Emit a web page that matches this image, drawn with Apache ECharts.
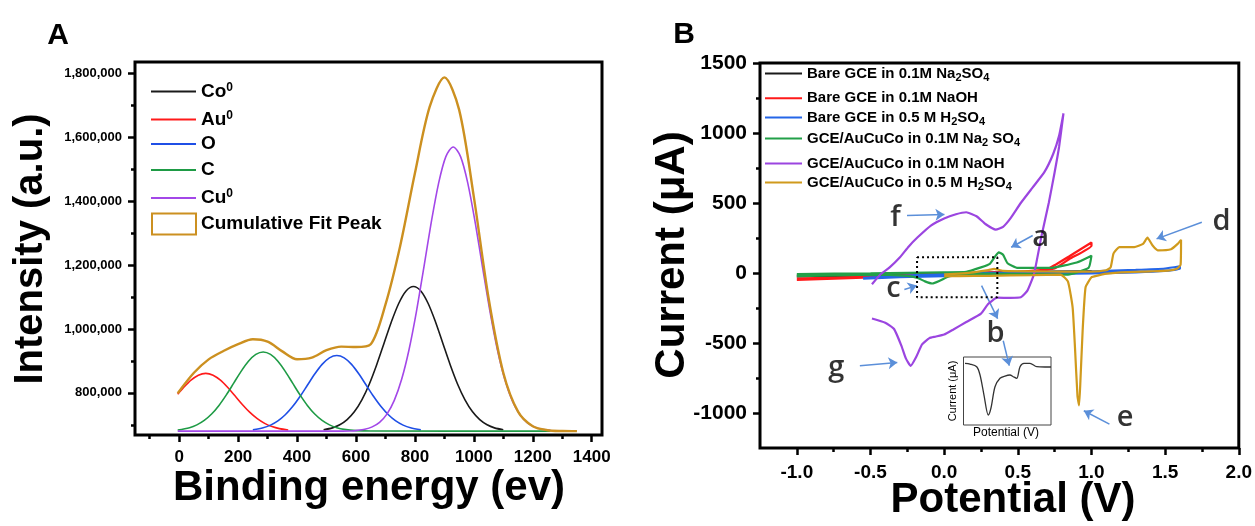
<!DOCTYPE html>
<html><head><meta charset="utf-8">
<script src="https://cdn.jsdelivr.net/npm/echarts@6/dist/echarts.min.js"></script>
<style>html,body{margin:0;padding:0;background:#fff}#c{width:1255px;height:526px}</style>
</head><body><div id="c"></div>
<script>
// ---------- Panel A (binding energy, intensity in thousands) ----------
const auX = [-5,15,40,65,90,115,140,165,190,215,240,265,290,315,340,370];
const auY = [795.3,816.6,839.7,855.4,861,855.4,839.7,816.6,789.8,762.9,738.8,719.2,704.5,694.4,687.9,683.6];
const cX = [-5,35,60,85,110,135,160,185,210,235,260,285,310,335,360,385,410,435,460,485,510,535,560,600,650,1260];
const cY = [683.7,690.9,699.7,713.6,733.6,760.5,793.5,830.4,867.2,898.9,920.3,928,920.3,898.9,867.2,830.4,793.5,760.5,733.6,713.6,699.7,690.9,685.7,681.7,680.3,680];
const oX = [250,285,310,335,360,385,410,435,460,485,510,535,560,585,610,635,660,685,710,735,760,785,820];
const oY = [684.1,690.4,698.9,712.1,731.3,757,788.5,823.7,858.9,889.2,909.7,917,909.7,889.2,858.9,823.7,788.5,757,731.3,712.1,698.9,690.4,684.1];
const coX = [490,520,545,570,595,620,645,670,695,720,745,770,795,820,845,870,895,920,945,970,995,1020,1045,1070,1100];
const coY = [684.3,690.3,699.9,716.1,741.3,778,827.1,887.4,954.7,1021.9,1079.8,1119,1133,1119,1079.8,1021.9,954.7,887.4,827.1,778,741.3,716.1,699.9,690.3,684.3];
const cuX = [-5,555,580,605,630,655,680,705,730,755,780,805,830,855,880,905,930,955,980,1005,1030,1055,1080,1105,1130,1155,1180,1205,1230,1260];
const cuY = [680,680,680.5,682.5,686,693.4,707.7,733.5,776.5,842.4,935,1053.6,1190.7,1331.1,1454.6,1539.7,1570,1539.7,1454.6,1331.1,1190.7,1053.6,935,842.4,776.5,733.5,707.7,693.4,686,682.5];
const fitX = [-5,50,100,150,200,250,300,350,400,450,500,550,600,650,700,750,800,850,900,950,1000,1050,1100,1150,1200,1250,1300,1350];
const fitY = [799,862.8,904.9,931,952.5,967.7,960.2,929.8,905,910.2,933.4,944.6,943.5,952.3,1076.4,1260.1,1487.6,1695.2,1787.7,1686.8,1413.6,1097.1,863,741.3,695.5,683,680.5,680];
const xTicksA = [0,200,400,600,800,1000,1200,1400];
const xMinorA = [-100,100,300,500,700,900,1100,1300];
const yTicksA = [800,1000,1200,1400,1600,1800];
const yMinorA = [700,900,1100,1300,1500,1700];

// ---------- Panel B (CV: potential V, current µA) ----------
const bkV = [-1.0,-0.5,0,0.5,1.0,1.0,0.5,0,-0.5,-1.0];
const bkI = [-18,-10,-2,5,14,4,-5,-12,-18,-25];
const rdV = [-1.0,-0.5,0,0.5,0.7,0.85,1.0,1.0,0.85,0.75,0.5,0,-0.5,-1.0];
const rdI = [-40,-25,-5,10,28,120,218,195,100,32,0,-15,-32,-50];
const blV = [-0.55,-0.3,0,0.5,1.0,1.3,1.5,1.6,1.6,1.5,1.3,1.0,0.5,0,-0.3,-0.55];
const blI = [-35,-20,-8,5,12,22,32,48,30,15,5,-2,-10,-22,-30,-40];
const gnV = [-1.0,-0.5,0,0.15,0.25,0.31,0.35,0.37,0.4,0.43,0.5,0.72,0.9,1.0,0.98,0.84,0.6,0.3,0.1,0.03,-0.03,-0.08,-0.13,-0.18,-0.25,-0.5,-1.0];
const gnI = [-8,-2,5,8,40,65,124,148,130,70,36,36,75,124,36,-11,-8,-5,-8,-25,-55,-75,-60,-35,-20,-12,-22];
const ppV = [-0.49,-0.43,-0.37,-0.3,-0.24,-0.18,-0.09,0.0,0.08,0.15,0.22,0.28,0.35,0.4,0.45,0.52,0.6,0.68,0.74,0.78,0.81,0.78,0.75,0.71,0.66,0.61,0.565,0.52,0.45,0.36,0.3,0.25,0.15,0.06,0.0,-0.06,-0.1,-0.15,-0.19,-0.227,-0.26,-0.29,-0.34,-0.4,-0.49];
const ppI = [-80,-7,40,112,190,255,339,390,420,434,405,350,310,330,390,500,610,720,850,980,1140,900,720,500,260,-7,-126,-174,-178,-176,-220,-290,-350,-405,-440,-455,-465,-510,-600,-663,-610,-520,-400,-355,-325];
const gdV = [0.0,0.1,0.2,0.3,0.34,0.36,0.4,0.6,0.8,1.0,1.1,1.13,1.15,1.19,1.29,1.35,1.38,1.415,1.45,1.54,1.585,1.608,1.605,1.58,1.52,1.4,1.2,1.09,1.04,1.0,0.96,0.94,0.925,0.916,0.905,0.888,0.872,0.84,0.79,0.6,0.3,0.1,0.0];
const gdI = [-10,-5,5,20,30,25,15,12,10,10,20,40,140,185,185,208,252,196,162,170,208,237,60,30,17,12,5,-6,-19,-31,-102,-412,-770,-945,-880,-531,-245,-60,-11,-15,-20,-22,-25];
const xTicksB = [-1,-0.5,0,0.5,1,1.5,2];
const xMinorB = [-0.75,-0.25,0.25,0.75,1.25,1.75];
const yTicksB = [-1000,-500,0,500,1000,1500];
const yMinorB = [-750,-250,250,750,1250];
// dotted zoom box, annotation letters and arrows (data coordinates)
const boxV = [-0.184,0.361,0.361,-0.184,-0.184];
const boxI = [112,112,-174,-174,112];
const letters = ['a','b','c','d','e','f','g'];
const letterV = [0.655,0.349,-0.345,1.882,1.229,-0.331,-0.733];
const letterI = [255,-433,-112,363,-1032,398,-675];
const arrowFromV = [0.601,0.254,0.401,-0.27,1.749,1.122,-0.252,-0.572];
const arrowFromI = [268,-90,-484,-118,363,-1079,411,-662];
const arrowToV = [0.455,0.363,0.442,-0.185,1.442,0.948,0.002,-0.318];
const arrowToI = [184,-326,-662,-90,244,-984,418,-639];
// inset (arbitrary units 0..100)
const insX = [1.7,7.4,15.1,18.9,23.4,28.3,31.4,36,41.7,47.4,53.1,56.9,60.8,64.6,69.1,76,83.7,93.1,100];
const insY = [90.7,89.7,85.7,73.5,44.1,14.7,25,56.3,68.7,72,73.5,71,68.7,85.7,90.7,90.7,85.7,85.3,85.3];

const zip = (a,b) => a.map((v,i)=>[v,b[i]]);
const F = '"Liberation Sans", Arial, sans-serif';
const colA = {Co0:'#1a1a1a', Au0:'#ff1a1a', O:'#1f4fe6', C:'#1e9b45', Cu0:'#a347e8', fit:'#cc9020'};
const colB = ['#1a1a1a','#ff1a1a','#2566e8','#22a048','#9b45e0','#d09a1c'];
const namesB = ['Bare GCE in 0.1M Na2SO4','Bare GCE in 0.1M NaOH','Bare GCE in 0.5 M H2SO4','GCE/AuCuCo in 0.1M Na2SO4','GCE/AuCuCo in 0.1M NaOH','GCE/AuCuCo in 0.5 M H2SO4'];
const richB = {
 'Bare GCE in 0.1M Na2SO4':'{t|Bare GCE in 0.1M Na}{s|2}{t|SO}{s|4}',
 'Bare GCE in 0.1M NaOH':'{t|Bare GCE in 0.1M NaOH}',
 'Bare GCE in 0.5 M H2SO4':'{t|Bare GCE in 0.5 M H}{s|2}{t|SO}{s|4}',
 'GCE/AuCuCo in 0.1M Na2SO4':'{t|GCE/AuCuCo in 0.1M Na}{s|2}{t| SO}{s|4}',
 'GCE/AuCuCo in 0.1M NaOH':'{t|GCE/AuCuCo in 0.1M NaOH}',
 'GCE/AuCuCo in 0.5 M H2SO4':'{t|GCE/AuCuCo in 0.5 M H}{s|2}{t|SO}{s|4}'
};
const richA = {'Co0':'{t|Co}{p|0}','Au0':'{t|Au}{p|0}','O':'{t|O}','C':'{t|C}','Cu0':'{t|Cu}{p|0}','Cumulative Fit Peak':'{t|Cumulative Fit Peak}'};
const namesA = ['Co0','Au0','O','C','Cu0','Cumulative Fit Peak'];
const rowsA = [91.5,119.5,144.5,170.5,198,223];
const rowsB = [76,100.7,120,141,166,185];

const tickStyle = {color:'#000', width:2.5};
function axis(grid, pos, min, max, ticks, len, labels){
  const a = {gridIndex:grid, type:'value', position:pos, min:min, max:max, axisLine:{show:false, onZero:false}, splitLine:{show:false},
    axisTick:{show:true, customValues:ticks, length:len, lineStyle:tickStyle},
    axisLabel:{show:false}};
  if(labels){ a.axisLabel = Object.assign({show:true, customValues:ticks, color:'#000', fontFamily:F, fontWeight:'bold'}, labels); }
  return a;
}
const xAxis = [
  axis(0,'bottom',-150,1435,xTicksA,7,{fontSize:17, margin:14, formatter:v=>String(v)}),
  axis(0,'bottom',-150,1435,xMinorA,4,null),
  axis(1,'bottom',-1.25,2.0,xTicksB,7,{fontSize:19, margin:15, formatter:v=>Number(v).toFixed(1)}),
  axis(1,'bottom',-1.25,2.0,xMinorB,4,null),
  {gridIndex:2, type:'value', min:0, max:100, show:false}
];
const yAxis = [
  axis(0,'left',668,1836,yTicksA,7,{fontSize:13, margin:13, formatter:v=>(v*1000).toLocaleString('en-US')}),
  axis(0,'left',668,1836,yMinorA,4,null),
  axis(1,'left',-1250,1500,yTicksB,7,{fontSize:21, margin:13, formatter:v=>String(v)}),
  axis(1,'left',-1250,1500,yMinorB,4,null),
  {gridIndex:2, type:'value', min:0, max:100, show:false}
];

function lineA(name, xs, ys, color, w){
  return {name:name, type:'line', xAxisIndex:0, yAxisIndex:0, data:zip(xs,ys), showSymbol:false, symbol:'none',
    smooth:0.3, lineStyle:{color:color, width:w}, itemStyle:{color:color}, z:3};
}
function lineB(i, vs, is){
  return {name:namesB[i], type:'line', xAxisIndex:2, yAxisIndex:2, data:zip(vs,is), showSymbol:false, symbol:'none',
    smooth:0.15, lineStyle:{color:colB[i], width:2.2}, itemStyle:{color:colB[i]}, z:3+i};
}
const series = [
  lineA('Co0', coX, coY, colA.Co0, 1.6),
  lineA('Au0', auX, auY, colA.Au0, 1.6),
  lineA('O', oX, oY, colA.O, 1.6),
  lineA('C', cX, cY, colA.C, 1.6),
  lineA('Cu0', cuX, cuY, colA.Cu0, 1.6),
  lineA('Cumulative Fit Peak', fitX, fitY, colA.fit, 2.4),
  lineB(0,bkV,bkI), lineB(1,rdV,rdI), lineB(2,blV,blI), lineB(3,gnV,gnI), lineB(4,ppV,ppI), lineB(5,gdV,gdI),
  {name:'box', type:'line', xAxisIndex:2, yAxisIndex:2, data:zip(boxV,boxI), showSymbol:false, symbol:'none',
   lineStyle:{color:'#000', width:2, type:[2,3]}, z:20, silent:true},
  {name:'annot', type:'scatter', xAxisIndex:2, yAxisIndex:2, symbolSize:2, itemStyle:{color:'rgba(255,255,255,0)'}, silent:true, z:30,
   data:letterV.map((v,i)=>({value:[v,letterI[i]], name:letters[i]})),
   label:{show:true, position:'inside', formatter:'{b}', color:'#000', textBorderWidth:0,
          fontFamily:'"Open Sans", "Liberation Sans", sans-serif', fontSize:29, fontWeight:600},
   labelLayout:{hideOverlap:false},
   markLine:{silent:true, symbol:['none','arrow'], symbolSize:9, animation:false,
     lineStyle:{color:'#5b8fd9', width:1.5, type:'solid'}, label:{show:false},
     data: arrowFromV.map((v,i)=>[{coord:[v,arrowFromI[i]]},{coord:[arrowToV[i],arrowToI[i]]}])}},
  {name:'inset', type:'line', xAxisIndex:4, yAxisIndex:4, data:zip(insX,insY), showSymbol:false, symbol:'none',
   smooth:0.3, lineStyle:{color:'#333', width:1.3}, z:5}
];

const legend = [];
namesA.forEach((n,i)=>{
  const isFit = n==='Cumulative Fit Peak';
  legend.push({data:[isFit?{name:n, icon:'rect', itemStyle:{color:'rgba(0,0,0,0)', borderColor:colA.fit, borderWidth:2}}:{name:n, icon:'rect'}],
    left:151, top: rowsA[i] - (isFit?10.5:10), itemWidth: isFit?44:45, itemHeight: isFit?21:2, padding:0, selectedMode:false,
    formatter: nm=>richA[nm],
    textStyle:{rich:{t:{fontFamily:F, fontWeight:'bold', fontSize:19, color:'#000', lineHeight:20},
                     p:{fontFamily:F, fontWeight:'bold', fontSize:12, color:'#000', lineHeight:8, verticalAlign:'top'}}}});
});
namesB.forEach((n,i)=>{
  legend.push({data:[{name:n, icon:'rect'}], left:765, top: rowsB[i]-10, itemWidth:37, itemHeight:2, padding:0, selectedMode:false,
    formatter: nm=>richB[nm],
    textStyle:{rich:{t:{fontFamily:F, fontWeight:'bold', fontSize:15, color:'#000', lineHeight:20},
                     s:{fontFamily:F, fontWeight:'bold', fontSize:11, color:'#000', lineHeight:12, verticalAlign:'bottom'}}}});
});

function txt(text, x, y, size, rot, weight){
  return {type:'text', x:x, y:y, rotation:rot||0, silent:true, z:50,
    style:{text:text, x:0, y:0, fill:'#000', font:(weight||'bold')+' '+size+'px '+F, textAlign:'center', textVerticalAlign:'middle'}};
}
const graphic = [
  txt('A', 58, 36, 30),
  txt('B', 684, 35, 30),
  txt('Intensity (a.u.)', 31, 249, 40, Math.PI/2),
  txt('Binding energy (ev)', 369, 488, 42),
  txt('Current (μA)', 672, 255, 42, Math.PI/2),
  txt('Potential (V)', 1013, 500, 42),
  txt('Potential (V)', 1006, 433, 12, 0, 'normal'),
  txt('Current (μA)', 953, 391, 11, Math.PI/2, 'normal')
];

const chart = echarts.init(document.getElementById('c'));
chart.setOption({
  animation:false,
  backgroundColor:'#fff',
  grid:[
    {left:135, top:62, width:467, height:373, show:true, borderColor:'#000', borderWidth:3, backgroundColor:'rgba(0,0,0,0)'},
    {left:760, top:63, width:479, height:385, show:true, borderColor:'#000', borderWidth:3, backgroundColor:'rgba(0,0,0,0)'},
    {left:963.5, top:357, width:87.5, height:68, show:true, borderColor:'#444', borderWidth:1, backgroundColor:'#fff'}
  ],
  xAxis:xAxis, yAxis:yAxis, legend:legend, series:series, graphic:graphic
});
</script></body></html>
